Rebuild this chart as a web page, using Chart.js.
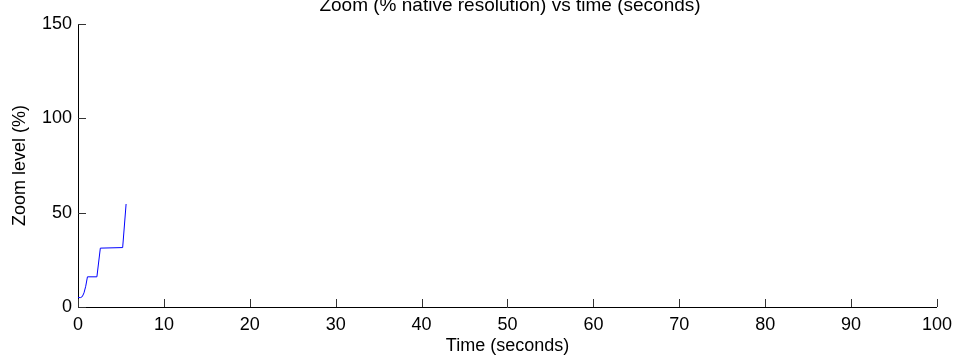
<!DOCTYPE html>
<html>
<head>
<meta charset="utf-8">
<script src="https://cdn.jsdelivr.net/npm/chart.js@4/dist/chart.umd.min.js"></script>
<style>
html,body{margin:0;padding:0;background:#fff;}
#wrap{width:959px;height:360px;position:relative;}
</style>
</head>
<body>
<div id="wrap"><canvas id="c" width="959" height="360"></canvas></div>
<script>
const timeSeconds = [0, 0.3, 0.5, 0.7, 0.9, 1.1, 2.2, 2.6, 5.2, 5.6];
const zoomLevel = [5, 5, 5.5, 7.5, 11, 16, 16, 31.2, 31.5, 54.6];
const xTicks = [0, 10, 20, 30, 40, 50, 60, 70, 80, 90, 100];
const yTicks = [0, 50, 100, 150];
const titleText = 'Zoom (% native resolution) vs time (seconds)';
const xTitle = 'Time (seconds)';
const yTitle = 'Zoom level (%)';

const FONT = 'Liberation Sans, Arial, sans-serif';

const inwardTicks = {
  id: 'inwardTicks',
  afterDatasetsDraw(chart) {
    const ctx = chart.ctx;
    const xs = chart.scales.x, ys = chart.scales.y;
    const ca = chart.chartArea;
    ctx.save();
    ctx.strokeStyle = '#333';
    ctx.lineWidth = 1;
    ctx.beginPath();
    xTicks.forEach(v => {
      const px = Math.round(xs.getPixelForValue(v)) + 0.5;
      ctx.moveTo(px, ca.bottom);
      ctx.lineTo(px, ca.bottom - 8);
    });
    yTicks.forEach(v => {
      const py = Math.round(ys.getPixelForValue(v)) + 0.5;
      ctx.moveTo(ca.left, py);
      ctx.lineTo(ca.left + 8, py);
    });
    ctx.stroke();
    ctx.fillStyle = '#000';
    ctx.font = '19px ' + FONT;
    ctx.textAlign = 'center';
    ctx.textBaseline = 'alphabetic';
    ctx.fillText(titleText, 510, 11);
    ctx.restore();
  }
};

new Chart(document.getElementById('c'), {
  type: 'line',
  data: {
    datasets: [{
      data: timeSeconds.map((t, i) => ({x: t, y: zoomLevel[i]})),
      borderColor: '#0000ff',
      borderWidth: 1,
      pointRadius: 0,
      fill: false,
      tension: 0
    }]
  },
  options: {
    responsive: false,
    animation: false,
    devicePixelRatio: 1,
    layout: {padding: {top: 24, right: 22, left: 0, bottom: 0}},
    plugins: {legend: {display: false}, tooltip: {enabled: false}, title: {display: false}},
    scales: {
      x: {
        type: 'linear', min: 0, max: 100,
        afterBuildTicks: s => { s.ticks = xTicks.map(v => ({value: v})); },
        afterFit: s => { s.height = 53; },
        grid: {display: true, drawOnChartArea: false, drawTicks: false},
        border: {display: true, color: '#000', width: 1},
        ticks: {color: '#000', font: {family: FONT, size: 18}, padding: 7, maxRotation: 0},
        title: {display: true, text: xTitle, color: '#000', font: {family: FONT, size: 18}, padding: {top: 0, bottom: 3}}
      },
      y: {
        type: 'linear', min: 0, max: 150,
        afterBuildTicks: s => { s.ticks = yTicks.map(v => ({value: v})); },
        afterFit: s => { s.width = 78; },
        grid: {display: true, drawOnChartArea: false, drawTicks: false},
        border: {display: true, color: '#000', width: 1},
        ticks: {color: '#000', font: {family: FONT, size: 18}, padding: 6},
        title: {display: true, text: yTitle, color: '#000', font: {family: FONT, size: 18}, padding: {top: 9, bottom: 0}}
      }
    }
  },
  plugins: [inwardTicks]
});
</script>
</body>
</html>
